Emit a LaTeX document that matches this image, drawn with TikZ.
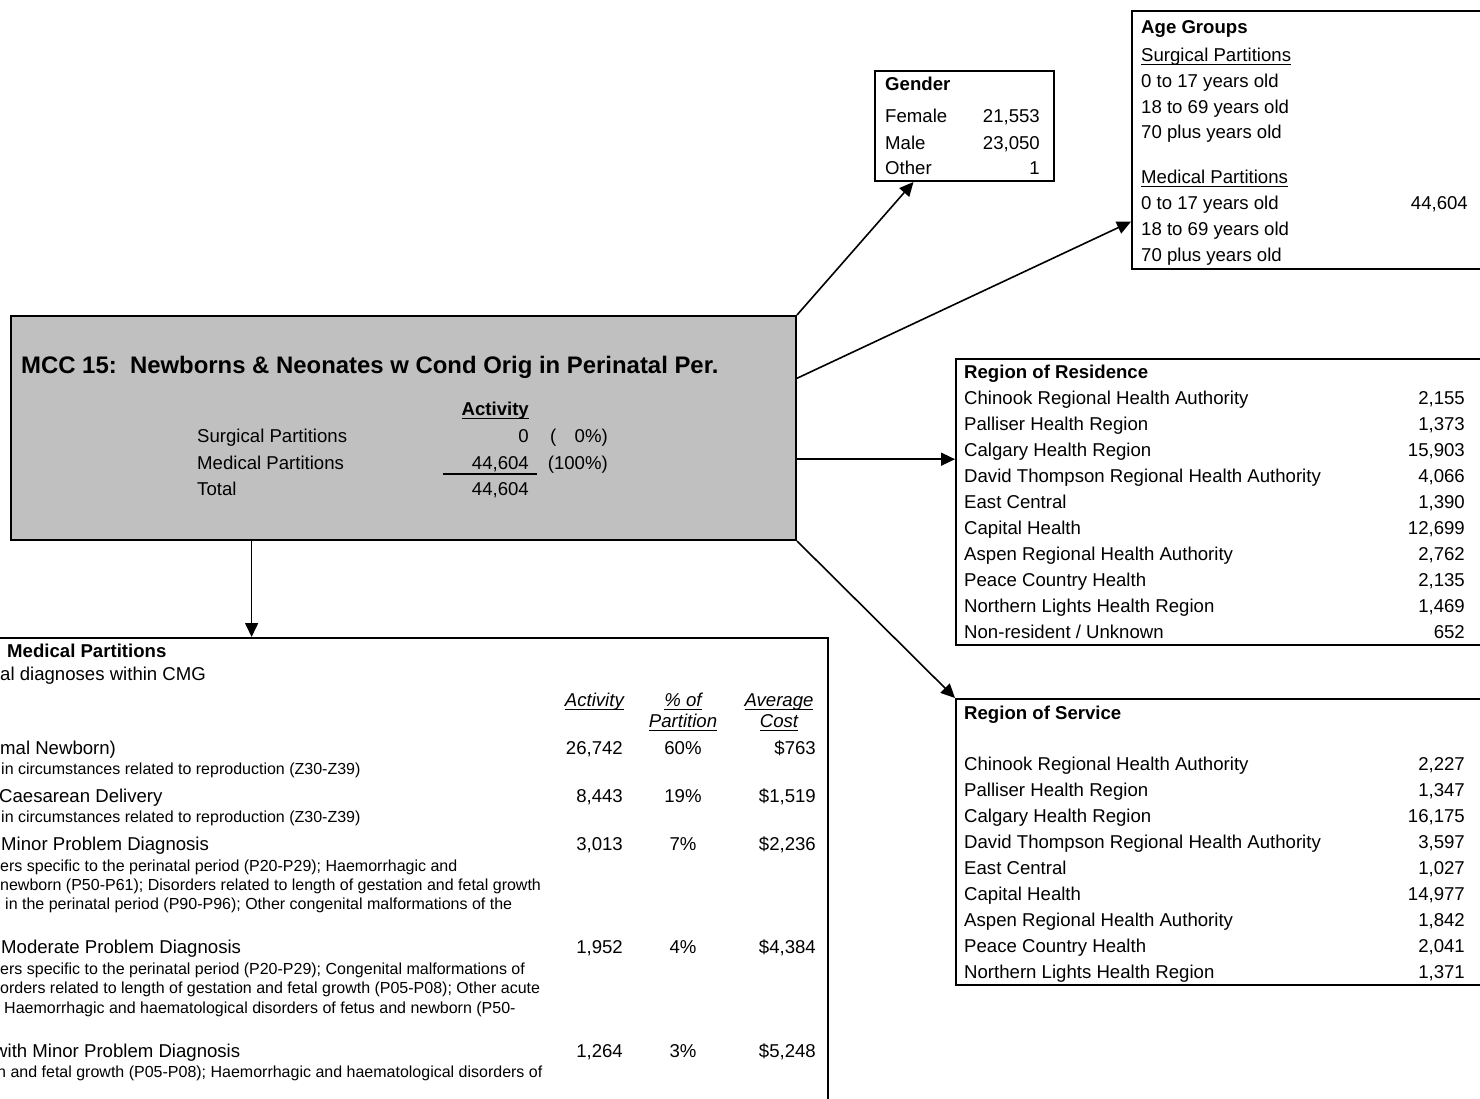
\documentclass[tikz,border=0pt]{standalone}
\usepackage{fontspec}
\setmainfont{Liberation Sans}
\usetikzlibrary{arrows.meta,calc}
\newcommand\fsz{\fontsize{18.6}{22}\selectfont}
\newcommand\fsm{\fontsize{16}{19}\selectfont}
\newcommand\ftl{\fontsize{23.9}{28}\selectfont\bfseries}
\newcommand\ulx[1]{\leavevmode\setbox0\hbox{#1}\rlap{\vrule width\wd0 height -2.2pt depth 3.6pt}\box0}
\definecolor{boxgray}{RGB}{192,192,192}
\begin{document}
\begin{tikzpicture}[x=1pt,y=-1pt,
  box/.style={draw,line width=2pt,anchor=north west,inner sep=0,fill=white},
  L/.style={inner sep=0,anchor=base west,yshift=-6.6pt,font=\fsz},
  R/.style={inner sep=0,anchor=base east,yshift=-6.6pt,font=\fsz},
  C/.style={inner sep=0,anchor=base,yshift=-6.6pt,font=\fsz},
  Ls/.style={inner sep=0,anchor=base west,yshift=-5.7pt,font=\fsm},
  arr/.style={line width=1.6pt,-{Triangle[length=14pt,width=13pt]}}]
\useasboundingbox (0,0) rectangle (1480,1099);
\clip (0,0) rectangle (1480,1099);
\fill[white] (0,0) rectangle (1480,1099);

% boxes
\node[box,fill=boxgray,minimum width=785pt,minimum height=224pt] (main) at (10,315) {};
\node[box,minimum width=179pt,minimum height=110pt] (gender) at (874,70) {};
\node[box,minimum width=360pt,minimum height=258pt] (age) at (1131,10) {};
\node[box,minimum width=540pt,minimum height=286pt] (res) at (955,358) {};
\node[box,minimum width=540pt,minimum height=286pt] (serv) at (955,698) {};
\node[box,minimum width=850pt,minimum height=500pt] (med) at (-23,637) {};

% connectors
\draw[arr] (main.north east) -- ($(gender.south west)!0.218!(gender.south east)$);
\draw[arr] ($(main.north east)!0.28!(main.south east)$) -- ($(age.north west)!0.814!(age.south west)$);
\coordinate (rs) at ($(main.north east)!0.638!(main.south east)$);
\draw[arr] (rs) -- (rs -| res.west);
\draw[arr] (main.south east) -- (serv.north west);
\coordinate (dn) at ($(main.south west)!0.307!(main.south east)$);
\draw[arr] (dn) -- (dn |- med.north);

% main box text
\node[font=\ftl,anchor=base west,inner sep=0,yshift=-8.6pt] (ttl) at (21,365) {MCC 15:\ \ Newborns \& Neonates w Cond Orig in Perinatal Per.};
\node[R] (mact) at (529,409) {\bfseries\ulx{Activity}};
\node[L] (msl) at (197,436) {Surgical Partitions};
\node[R] (msv) at (529,436) {0};
\node[L] (msp1) at (550,436) {(};
\node[R] (msp2) at (608,436) {0\%)};
\node[L] (mml) at (197,463) {Medical Partitions};
\node[R] (mmv) at (529,463) {44,604};
\node[R] (mmp) at (608,463) {(100\%)};
\draw[line width=2.2pt] (443,474) -- (537,474);
\node[L] (mtl) at (197,489) {Total};
\node[R] (mtv) at (529,489) {44,604};

% gender
\node[L] (g0) at (885,84) {\bfseries Gender};
\node[L] (g1) at (885,116) {Female};
\node[R] (g1v) at (1040,116) {21,553};
\node[L] (g2) at (885,143) {Male};
\node[R] (g2v) at (1040,143) {23,050};
\node[L] (g3) at (885,168) {Other};
\node[R] (g3v) at (1040,168) {1};

% age groups
\node[L] (a0) at (1141,27) {\bfseries Age Groups};
\node[L] (a1) at (1141,55) {\ulx{Surgical Partitions}};
\node[L] (a2) at (1141,81) {0 to 17 years old};
\node[L] (a3) at (1141,107) {18 to 69 years old};
\node[L] (a4) at (1141,132) {70 plus years old};
\node[L] (a5) at (1141,177) {\ulx{Medical Partitions}};
\node[L] (a6) at (1141,203) {0 to 17 years old};
\node[R] (a6v) at (1468,203) {44,604};
\node[L] (a7) at (1141,229) {18 to 69 years old};
\node[L] (a8) at (1141,255) {70 plus years old};

% region of residence
\node[L] (r0) at (964,372) {\bfseries Region of Residence};
\node[L] (r1) at (964,398) {Chinook Regional Health Authority};   \node[R] (r1v) at (1465,398) {2,155};
\node[L] (r2) at (964,424) {Palliser Health Region};              \node[R] (r2v) at (1465,424) {1,373};
\node[L] (r3) at (964,450) {Calgary Health Region};               \node[R] (r3v) at (1465,450) {15,903};
\node[L] (r4) at (964,476) {David Thompson Regional Health Authority}; \node[R] (r4v) at (1465,476) {4,066};
\node[L] (r5) at (964,502) {East Central};                        \node[R] (r5v) at (1465,502) {1,390};
\node[L] (r6) at (964,528) {Capital Health};                      \node[R] (r6v) at (1465,528) {12,699};
\node[L] (r7) at (964,554) {Aspen Regional Health Authority};     \node[R] (r7v) at (1465,554) {2,762};
\node[L] (r8) at (964,580) {Peace Country Health};                \node[R] (r8v) at (1465,580) {2,135};
\node[L] (r9) at (964,606) {Northern Lights Health Region};       \node[R] (r9v) at (1465,606) {1,469};
\node[L] (r10) at (964,632) {Non-resident / Unknown};             \node[R] (r10v) at (1465,632) {652};

% region of service
\node[L] (s0) at (964,713) {\bfseries Region of Service};
\node[L] (s1) at (964,764) {Chinook Regional Health Authority};   \node[R] (s1v) at (1465,764) {2,227};
\node[L] (s2) at (964,790) {Palliser Health Region};              \node[R] (s2v) at (1465,790) {1,347};
\node[L] (s3) at (964,816) {Calgary Health Region};               \node[R] (s3v) at (1465,816) {16,175};
\node[L] (s4) at (964,842) {David Thompson Regional Health Authority}; \node[R] (s4v) at (1465,842) {3,597};
\node[L] (s5) at (964,868) {East Central};                        \node[R] (s5v) at (1465,868) {1,027};
\node[L] (s6) at (964,894) {Capital Health};                      \node[R] (s6v) at (1465,894) {14,977};
\node[L] (s7) at (964,920) {Aspen Regional Health Authority};     \node[R] (s7v) at (1465,920) {1,842};
\node[L] (s8) at (964,946) {Peace Country Health};                \node[R] (s8v) at (1465,946) {2,041};
\node[L] (s9) at (964,972) {Northern Lights Health Region};       \node[R] (s9v) at (1465,972) {1,371};

% medical partitions box
\node[L] (m0) at (7,651) {\bfseries Medical Partitions};
\node[L] (m0b) at (0,674) {al diagnoses within CMG};
\node[R] (h1) at (624,700) {\itshape\ulx{Activity}};
\node[C] (h2) at (683,700) {\itshape\ulx{\% of}};
\node[C] (h2b) at (683,721) {\itshape\ulx{Partition}};
\node[C] (h3) at (779,700) {\itshape\ulx{Average}};
\node[C] (h3b) at (779,721) {\itshape\ulx{Cost}};

\node[L] (d1) at (0,748) {mal Newborn)};
\node[Ls] (d1s) at (1,769) {in circumstances related to reproduction (Z30-Z39)};
\node[R] (d1a) at (623,748) {26,742};
\node[C] (d1p) at (683,748) {60\%};
\node[R] (d1c) at (816,748) {\$763};

\node[L] (d2) at (-1,796) {Caesarean Delivery};
\node[Ls] (d2s) at (1,817) {in circumstances related to reproduction (Z30-Z39)};
\node[R] (d2a) at (623,796) {8,443};
\node[C] (d2p) at (683,796) {19\%};
\node[R] (d2c) at (816,796) {\$1,519};

\node[L] (d3) at (1,844) {Minor Problem Diagnosis};
\node[Ls] (d3s) at (0,866) {ers specific to the perinatal period (P20-P29); Haemorrhagic and};
\node[Ls] (d3t) at (0,885) {newborn (P50-P61); Disorders related to length of gestation and fetal growth};
\node[Ls] (d3u) at (5,904) {in the perinatal period (P90-P96); Other congenital malformations of the};
\node[R] (d3a) at (623,844) {3,013};
\node[C] (d3p) at (683,844) {7\%};
\node[R] (d3c) at (816,844) {\$2,236};

\node[L] (d4) at (1,947) {Moderate Problem Diagnosis};
\node[Ls] (d4s) at (0,969) {ers specific to the perinatal period (P20-P29); Congenital malformations of};
\node[Ls] (d4t) at (0,988) {orders related to length of gestation and fetal growth (P05-P08); Other acute};
\node[Ls] (d4u) at (4,1008) {Haemorrhagic and haematological disorders of fetus and newborn (P50-};
\node[R] (d4a) at (623,947) {1,952};
\node[C] (d4p) at (683,947) {4\%};
\node[R] (d4c) at (816,947) {\$4,384};

\node[L] (d5) at (-6,1051) {with Minor Problem Diagnosis};
\node[Ls] (d5s) at (-3,1072) {n and fetal growth (P05-P08); Haemorrhagic and haematological disorders of};
\node[R] (d5a) at (623,1051) {1,264};
\node[C] (d5p) at (683,1051) {3\%};
\node[R] (d5c) at (816,1051) {\$5,248};
\end{tikzpicture}
\end{document}
